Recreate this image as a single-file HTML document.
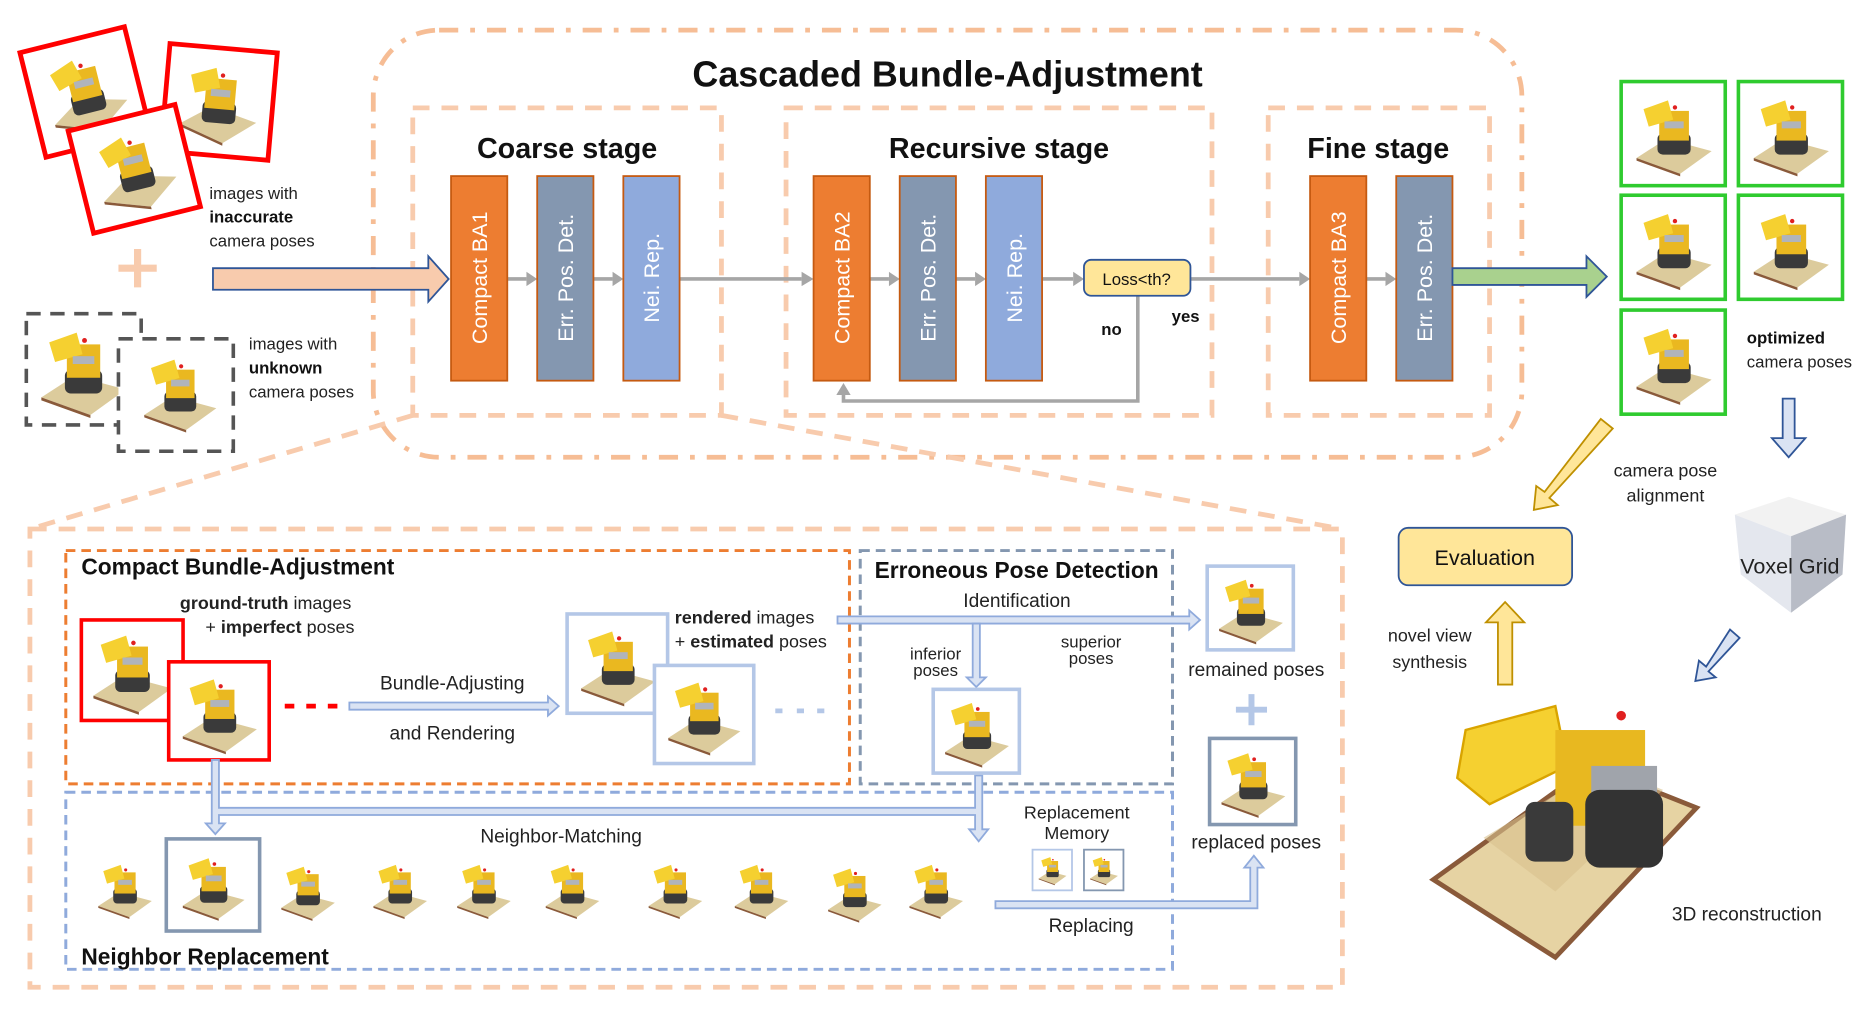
<!DOCTYPE html>
<html><head><meta charset="utf-8"><style>
html,body{margin:0;padding:0;background:#fff;}
svg{display:block;}
text{font-family:"Liberation Sans","DejaVu Sans",sans-serif;}
</style></head><body>
<svg width="1876" height="1009" viewBox="0 0 1568 843" xmlns="http://www.w3.org/2000/svg">
<defs>
<symbol id="dz" viewBox="0 0 100 100">
  <polygon points="8,78 58,96 94,70 42,56" fill="#dccb9c"/>
  <polygon points="8,78 58,96 58,99 8,81" fill="#8a5a3a"/>
  <rect x="32" y="50" width="38" height="24" rx="6" fill="#3a3a3a"/>
  <rect x="34" y="24" width="34" height="34" fill="#eab820"/>
  <polygon points="16,22 44,12 50,34 22,42" fill="#f5d030"/>
  <circle cx="52" cy="20" r="2.5" fill="#e02020"/>
  <rect x="40" y="36" width="22" height="8" fill="#b0b4bb"/>
</symbol>
</defs>

<!-- top-left input images -->
<g transform="rotate(-14 70 76)"><rect x="26" y="32" width="90" height="90" fill="#fff" stroke="#f00" stroke-width="4"/><use href="#dz" x="34" y="40" width="74" height="74"/></g>
<g transform="rotate(5 183 85)"><rect x="138" y="40" width="90" height="90" fill="#fff" stroke="#f00" stroke-width="4"/><use href="#dz" x="146" y="48" width="74" height="74"/></g>
<g transform="rotate(-14 112 140)"><rect x="66" y="97" width="92" height="88" fill="#fff" stroke="#f00" stroke-width="4"/><use href="#dz" x="74" y="104" width="76" height="74"/></g>
<text x="175" y="166" font-size="14" fill="#222">images with</text>
<text x="175" y="186" font-size="14" font-weight="bold" fill="#111">inaccurate</text>
<text x="175" y="206" font-size="14" fill="#222">camera poses</text>
<path d="M115 208 V240 M99 224 H131" stroke="#f8cbad" stroke-width="6"/>
<rect x="22" y="262" width="96" height="93" fill="none" stroke="#555" stroke-width="3" stroke-dasharray="12 8"/>
<use href="#dz" x="28" y="268" width="82" height="82"/>
<rect x="99" y="283" width="96" height="94" fill="#fff" stroke="#555" stroke-width="3" stroke-dasharray="12 8"/>
<use href="#dz" x="115" y="292" width="70" height="70"/>
<text x="208" y="292" font-size="14" fill="#222">images with</text>
<text x="208" y="312" font-size="14" font-weight="bold" fill="#111">unknown</text>
<text x="208" y="332" font-size="14" fill="#222">camera poses</text>

<!-- cascaded big box -->
<rect x="312" y="25" width="960" height="357" rx="55" fill="none" stroke="#f4b183" stroke-width="4" stroke-dasharray="16 10 4 10" opacity="0.85"/>
<text x="792" y="72" font-size="30" font-weight="bold" text-anchor="middle" fill="#111">Cascaded Bundle-Adjustment</text>
<g fill="none" stroke="#f8cbad" stroke-width="4" stroke-dasharray="14 10">
<rect x="345" y="90" width="258" height="257"/>
<rect x="657" y="90" width="356" height="257"/>
<rect x="1060" y="90" width="185" height="257"/>
<line x1="345" y1="347" x2="25" y2="442"/>
<line x1="603" y1="347" x2="1122" y2="442"/>
<rect x="25" y="442" width="1097" height="383"/>
</g>
<text x="474" y="132" font-size="24" font-weight="bold" text-anchor="middle" fill="#111">Coarse stage</text>
<text x="835" y="132" font-size="24" font-weight="bold" text-anchor="middle" fill="#111">Recursive stage</text>
<text x="1152" y="132" font-size="24" font-weight="bold" text-anchor="middle" fill="#111">Fine stage</text>

<!-- gray connectors -->
<g stroke="#a6a6a6" stroke-width="3" fill="none">
<line x1="424" y1="233" x2="440" y2="233"/><line x1="496" y1="233" x2="512" y2="233"/>
<line x1="568" y1="233" x2="670" y2="233"/>
<line x1="727" y1="233" x2="743" y2="233"/><line x1="799" y1="233" x2="815" y2="233"/>
<line x1="871" y1="233" x2="897" y2="233"/>
<line x1="995" y1="233" x2="1086" y2="233"/>
<line x1="1142" y1="233" x2="1158" y2="233"/>
<polyline points="951,247 951,335 705,335 705,328"/>
</g>
<g fill="#a6a6a6">
<polygon points="440,227 449,233 440,239"/><polygon points="512,227 521,233 512,239"/>
<polygon points="670,227 680,233 670,239"/><polygon points="743,227 752,233 743,239"/>
<polygon points="815,227 824,233 815,239"/><polygon points="897,227 906,233 897,239"/>
<polygon points="1086,227 1095,233 1086,239"/><polygon points="1158,227 1167,233 1158,239"/>
<polygon points="699,330 705,320 711,330"/>
</g>
<!-- bars -->
<g stroke-width="1.5">
<rect x="377" y="147" width="47" height="171" fill="#ed7d31" stroke="#c55a11"/>
<rect x="449" y="147" width="47" height="171" fill="#8497b0" stroke="#c55a11"/>
<rect x="521" y="147" width="47" height="171" fill="#8faadc" stroke="#c55a11"/>
<rect x="680" y="147" width="47" height="171" fill="#ed7d31" stroke="#c55a11"/>
<rect x="752" y="147" width="47" height="171" fill="#8497b0" stroke="#c55a11"/>
<rect x="824" y="147" width="47" height="171" fill="#8faadc" stroke="#c55a11"/>
<rect x="1095" y="147" width="47" height="171" fill="#ed7d31" stroke="#c55a11"/>
<rect x="1167" y="147" width="47" height="171" fill="#8497b0" stroke="#c55a11"/>
</g>
<g font-size="18" fill="#fff" text-anchor="middle">
<text transform="translate(407 232) rotate(-90)">Compact BA1</text>
<text transform="translate(479 232) rotate(-90)">Err. Pos. Det.</text>
<text transform="translate(551 232) rotate(-90)">Nei. Rep.</text>
<text transform="translate(710 232) rotate(-90)">Compact BA2</text>
<text transform="translate(782 232) rotate(-90)">Err. Pos. Det.</text>
<text transform="translate(854 232) rotate(-90)">Nei. Rep.</text>
<text transform="translate(1125 232) rotate(-90)">Compact BA3</text>
<text transform="translate(1197 232) rotate(-90)">Err. Pos. Det.</text>
</g>
<rect x="906" y="217" width="89" height="30" rx="6" fill="#ffe699" stroke="#2f5597" stroke-width="1.5"/>
<text x="950" y="238" font-size="14" text-anchor="middle" fill="#111">Loss&lt;th?</text>
<text x="929" y="280" font-size="14" font-weight="bold" text-anchor="middle" fill="#111">no</text>
<text x="991" y="269" font-size="14" font-weight="bold" text-anchor="middle" fill="#111">yes</text>

<!-- input & output big arrows -->
<polygon points="178,224 358,224 358,214 375,233 358,252 358,242 178,242" fill="#f8cbad" stroke="#2f5597" stroke-width="1.5"/>
<polygon points="1214,224 1326,224 1326,214 1343,231 1326,248 1326,238 1214,238" fill="#a9d18e" stroke="#2f5597" stroke-width="1.5"/>

<!-- green outputs -->
<g fill="#fff" stroke="#2fcb2f" stroke-width="3">
<rect x="1355" y="68" width="87" height="87"/><rect x="1453" y="68" width="87" height="87"/>
<rect x="1355" y="163" width="87" height="87"/><rect x="1453" y="163" width="87" height="87"/>
<rect x="1355" y="259" width="87" height="87"/>
</g>
<use href="#dz" x="1362" y="75" width="73" height="73"/><use href="#dz" x="1460" y="75" width="73" height="73"/>
<use href="#dz" x="1362" y="170" width="73" height="73"/><use href="#dz" x="1460" y="170" width="73" height="73"/>
<use href="#dz" x="1362" y="266" width="73" height="73"/>
<text x="1460" y="287" font-size="14" font-weight="bold" fill="#111">optimized</text>
<text x="1460" y="307" font-size="14" fill="#222">camera poses</text>
<polygon points="1490,333 1500,333 1500,366 1509,366 1495,382 1481,366 1490,366" fill="#dae3f3" stroke="#2f5597" stroke-width="1.5"/>
<polygon points="1338,350 1348,358 1295,416 1302,422 1282,426 1284,406 1291,411" fill="#ffe699" stroke="#bf9000" stroke-width="1.5"/>
<text x="1392" y="398" font-size="15" text-anchor="middle" fill="#222">camera pose</text>
<text x="1392" y="419" font-size="15" text-anchor="middle" fill="#222">alignment</text>
<rect x="1169" y="441" width="145" height="48" rx="8" fill="#ffe699" stroke="#2f5597" stroke-width="1.5"/>
<text x="1241" y="472" font-size="18" text-anchor="middle" fill="#111">Evaluation</text>
<polygon points="1252,572 1264,572 1264,520 1274,520 1258,503 1242,520 1252,520" fill="#ffe699" stroke="#bf9000" stroke-width="1.5"/>
<text x="1195" y="536" font-size="15" text-anchor="middle" fill="#222">novel view</text>
<text x="1195" y="558" font-size="15" text-anchor="middle" fill="#222">synthesis</text>
<!-- voxel cube -->
<polygon points="1450,430 1495,415 1543,430 1497,448" fill="#f2f2f2"/>
<polygon points="1450,430 1497,448 1497,512 1455,480" fill="#e4e7ee"/>
<polygon points="1497,448 1543,430 1540,480 1497,512" fill="#b8bcc6"/>
<text x="1496" y="479" font-size="18" text-anchor="middle" fill="#222">Voxel Grid</text>
<polygon points="1446,526 1454,533 1428,561 1434,566 1417,569 1420,552 1426,557" fill="#dae3f3" stroke="#2f5597" stroke-width="1.5"/>
<!-- 3D reconstruction -->
<polygon points="1198,735 1300,800 1418,675 1330,640" fill="#e6d3a3" stroke="#8a5a3a" stroke-width="4"/>
<polygon points="1240,700 1300,745 1390,660 1340,640" fill="#d8c28e" opacity="0.6"/>
<polygon points="1225,610 1300,590 1310,640 1245,672 1218,650" fill="#f5d030" stroke="#d9a400" stroke-width="2"/>
<rect x="1300" y="610" width="75" height="80" fill="#e8b820"/>
<rect x="1330" y="640" width="55" height="30" fill="#a0a4ab"/>
<rect x="1325" y="660" width="65" height="65" rx="12" fill="#333"/>
<rect x="1275" y="670" width="40" height="50" rx="8" fill="#3a3a3a"/>
<circle cx="1355" cy="598" r="4" fill="#e02020"/>
<text x="1460" y="769" font-size="16" text-anchor="middle" fill="#222">3D reconstruction</text>

<!-- lower section -->
<rect x="55" y="460" width="655" height="195" fill="none" stroke="#ed7d31" stroke-width="2.5" stroke-dasharray="8 5"/>
<rect x="719" y="460" width="261" height="195" fill="none" stroke="#8497b0" stroke-width="2.5" stroke-dasharray="8 5"/>
<rect x="55" y="662" width="925" height="148" fill="none" stroke="#8faadc" stroke-width="2.5" stroke-dasharray="8 5"/>
<text x="68" y="480" font-size="19" font-weight="bold" fill="#111">Compact Bundle-Adjustment</text>
<text x="731" y="483" font-size="19" font-weight="bold" fill="#111">Erroneous Pose Detection</text>
<text x="68" y="806" font-size="19" font-weight="bold" fill="#111">Neighbor Replacement</text>
<text x="222" y="509" font-size="15" text-anchor="middle" fill="#222"><tspan font-weight="bold">ground-truth</tspan> images</text>
<text x="234" y="529" font-size="15" text-anchor="middle" fill="#222">+ <tspan font-weight="bold">imperfect</tspan> poses</text>
<rect x="68" y="518" width="85" height="84" fill="#fff" stroke="#f00" stroke-width="3"/>
<use href="#dz" x="72" y="522" width="76" height="76"/>
<rect x="141" y="553" width="84" height="82" fill="#fff" stroke="#f00" stroke-width="3"/>
<use href="#dz" x="147" y="559" width="72" height="72"/>
<path d="M238 590 h8 M256 590 h8 M274 590 h8" stroke="#f00" stroke-width="4"/>
<text x="378" y="576" font-size="16" text-anchor="middle" fill="#222">Bundle-Adjusting</text>
<text x="378" y="618" font-size="16" text-anchor="middle" fill="#222">and Rendering</text>
<g fill="#dae3f3" stroke="#8faadc" stroke-width="1.5">
<polygon points="292,587 458,587 458,582 467,590 458,598 458,593 292,593"/>
<polygon points="700,515 994,515 994,510 1003,518 994,526 994,521 700,521"/>
<polygon points="813,521 819,521 819,566 824,566 816,574 808,566 813,566"/>
<polygon points="177,635 183,635 183,675 815,675 815,648 821,648 821,693 826,693 818,703 810,693 815,693 815,681 183,681 183,688 188,688 180,697 172,688 177,688"/>
<polygon points="832,753 1045,753 1045,725 1040,725 1048,715 1056,725 1051,725 1051,759 832,759"/>
</g>
<rect x="474" y="513" width="84" height="83" fill="#fff" stroke="#b4c7e7" stroke-width="3"/>
<use href="#dz" x="480" y="519" width="72" height="72"/>
<rect x="547" y="556" width="83" height="82" fill="#fff" stroke="#b4c7e7" stroke-width="3"/>
<use href="#dz" x="553" y="562" width="70" height="70"/>
<path d="M648 594 h6 M666 594 h6 M683 594 h6" stroke="#b4c7e7" stroke-width="4"/>
<text x="564" y="521" font-size="15" fill="#222"><tspan font-weight="bold">rendered</tspan> images</text>
<text x="564" y="541" font-size="15" fill="#222">+ <tspan font-weight="bold">estimated</tspan> poses</text>
<text x="850" y="507" font-size="16" text-anchor="middle" fill="#222">Identification</text>
<text x="782" y="551" font-size="14" text-anchor="middle" fill="#222">inferior</text>
<text x="782" y="565" font-size="14" text-anchor="middle" fill="#222">poses</text>
<text x="912" y="541" font-size="14" text-anchor="middle" fill="#222">superior</text>
<text x="912" y="555" font-size="14" text-anchor="middle" fill="#222">poses</text>
<rect x="780" y="576" width="72" height="70" fill="#fff" stroke="#b4c7e7" stroke-width="3"/>
<use href="#dz" x="785" y="580" width="62" height="62"/>
<rect x="1009" y="473" width="72" height="70" fill="#fff" stroke="#b4c7e7" stroke-width="3"/>
<use href="#dz" x="1014" y="477" width="62" height="62"/>
<text x="1050" y="565" font-size="16" text-anchor="middle" fill="#222">remained poses</text>
<path d="M1046 580 V606 M1033 593 H1059" stroke="#b4c7e7" stroke-width="5"/>
<rect x="1011" y="617" width="72" height="72" fill="#fff" stroke="#8497b0" stroke-width="3"/>
<use href="#dz" x="1016" y="622" width="62" height="62"/>
<text x="1050" y="709" font-size="16" text-anchor="middle" fill="#222">replaced poses</text>
<text x="469" y="704" font-size="16" text-anchor="middle" fill="#222">Neighbor-Matching</text>
<text x="900" y="684" font-size="15" text-anchor="middle" fill="#222">Replacement</text>
<text x="900" y="701" font-size="15" text-anchor="middle" fill="#222">Memory</text>
<rect x="863" y="710" width="33" height="34" fill="#fff" stroke="#b4c7e7" stroke-width="1.5"/>
<use href="#dz" x="866" y="713" width="27" height="27"/>
<rect x="906" y="710" width="33" height="34" fill="#fff" stroke="#8497b0" stroke-width="1.5"/>
<use href="#dz" x="909" y="713" width="27" height="27"/>
<text x="912" y="779" font-size="16" text-anchor="middle" fill="#222">Replacing</text>
<rect x="139" y="701" width="78" height="77" fill="#fff" stroke="#8497b0" stroke-width="3"/>
<use href="#dz" x="78" y="715" width="52" height="55"/>
<use href="#dz" x="148" y="710" width="60" height="60"/>
<use href="#dz" x="231" y="715" width="52" height="58"/>
<use href="#dz" x="308" y="715" width="52" height="55"/>
<use href="#dz" x="378" y="715" width="52" height="55"/>
<use href="#dz" x="452" y="715" width="52" height="55"/>
<use href="#dz" x="538" y="715" width="52" height="55"/>
<use href="#dz" x="610" y="715" width="52" height="55"/>
<use href="#dz" x="688" y="718" width="52" height="55"/>
<use href="#dz" x="756" y="715" width="52" height="55"/>
</svg>
</body></html>
